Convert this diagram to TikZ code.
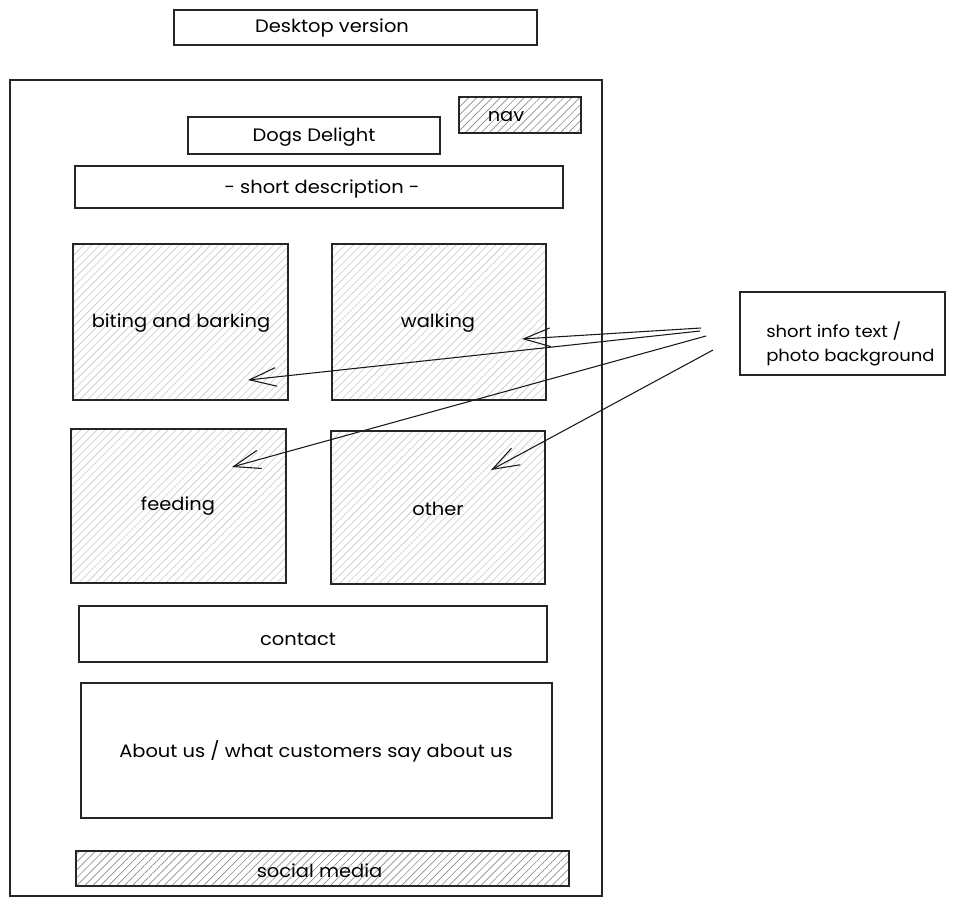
\documentclass[tikz,border=0pt]{standalone}
\usepackage{fontspec}
\setmainfont{Poppins}[FakeStretch=1.08]
\usetikzlibrary{patterns.meta,arrows.meta}

\tikzset{
  sketch/.style={draw=black!85, line width=0.9pt, inner sep=0pt},
  hatchlight/.style={sketch, pattern={Lines[angle=45,distance=4.2pt,line width=0.45pt]}, pattern color=black!22},
  hatchdark/.style={sketch, pattern={Lines[angle=45,distance=4.2pt,line width=0.5pt]}, pattern color=black!45},
  lbl/.style={font=\fontsize{13.5}{16}\selectfont, text=black},
  pointer/.style={draw=black!90, line width=0.8pt, -{Straight Barb[length=20pt,width=14pt,line width=0.8pt]}}
}

\begin{document}
\begin{tikzpicture}[x=0.75pt,y=-0.75pt]
  \useasboundingbox (0,0) rectangle (956,907);

  % heading
  \node[sketch, minimum width=272.25pt, minimum height=26.25pt] (title) at (355.5,27.5) {};
  \node[lbl] (titletext) at (332,28) {Desktop version};

  % page frame
  \node[sketch, minimum width=444pt, minimum height=612pt] (page) at (306,488) {};

  % header area
  \node[hatchdark, minimum width=91.5pt, minimum height=27pt] (nav) at (520,115) {};
  \node[lbl] (navtext) at (506,117) {nav};
  \node[sketch, minimum width=189pt, minimum height=27.75pt] (brand) at (314,135.5) {};
  \node[lbl] (brandtext) at (314,137) {Dogs Delight};
  \node[sketch, minimum width=366pt, minimum height=31.5pt] (desc) at (319,187) {};
  \node[lbl] (desctext) at (322,189) {- short description -};

  % topic tiles (boxes, then their captions)
  \node[hatchlight, minimum width=161.25pt, minimum height=117pt] (biting) at (180.5,322) {};
  \node[hatchlight, minimum width=160.5pt, minimum height=117pt] (walking) at (439,322) {};
  \node[hatchlight, line width=1.1pt, minimum width=161.25pt, minimum height=115.5pt] (feeding) at (178.5,506) {};
  \node[hatchlight, minimum width=160.5pt, minimum height=114.75pt] (other) at (438,507.5) {};
  \node[lbl] (bitingtext) at (181,323) {biting and barking};
  \node[lbl] (walkingtext) at (438,323) {walking};
  \node[lbl] (feedingtext) at (178,506) {feeding};
  \node[lbl] (othertext) at (438,509) {other};

  % lower sections
  \node[sketch, minimum width=351pt, minimum height=42pt] (contact) at (313,634) {};
  \node[lbl] (contacttext) at (298,639) {contact};
  \node[sketch, minimum width=353.25pt, minimum height=101.25pt] (about) at (316.5,750.5) {};
  \node[lbl] (abouttext) at (316,751) {About us / what customers say about us};
  \node[hatchdark, minimum width=369.75pt, minimum height=26.25pt] (social) at (322.5,868.5) {};
  \node[lbl] (socialtext) at (319.5,871) {social media};

  % side note
  \node[sketch, minimum width=153.75pt, minimum height=62.25pt] (info) at (842.5,333.5) {};
  \node[lbl, align=left, anchor=west, inner sep=0pt, font=\fontsize{12.5}{18.5}\selectfont] (infotext) at (766,344) {short info text /\\photo background};

  % pointer ends
  \coordinate (s1) at (701,328);
  \coordinate (s2) at (700,331);
  \coordinate (s3) at (706,336);
  \coordinate (s4) at (713,350);
  \coordinate (t1) at (522,339);
  \coordinate (t2) at (248,380);
  \coordinate (t3) at (232,467);
  \coordinate (t4) at (491,470);

  \draw[pointer] (s1) -- (t1);
  \draw[pointer] (s2) -- (t2);
  \draw[pointer] (s3) -- (t3);
  \draw[pointer] (s4) -- (t4);
\end{tikzpicture}
\end{document}
